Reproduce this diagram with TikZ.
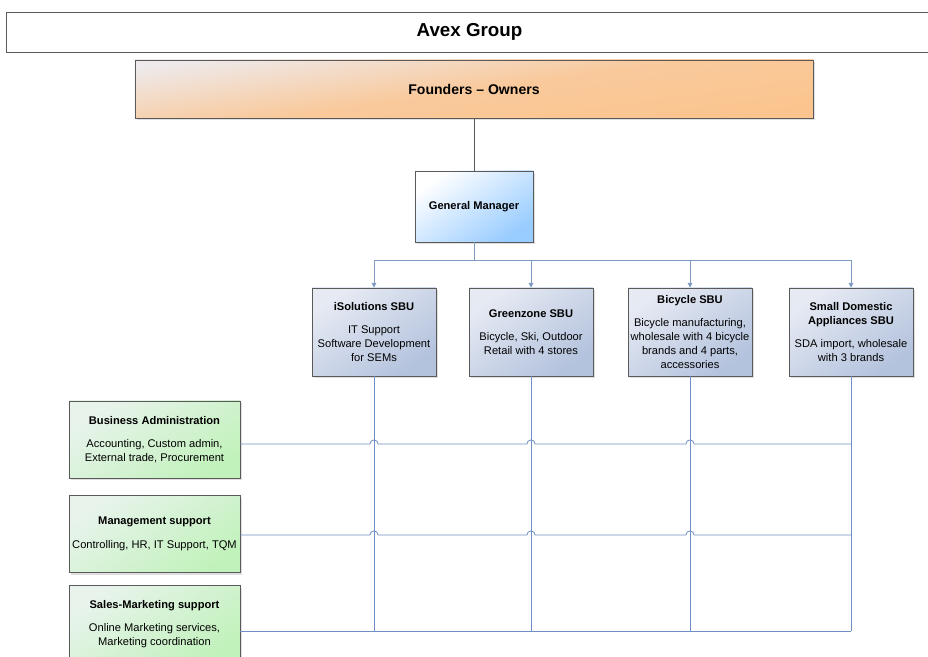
\documentclass[tikz,border=0pt]{standalone}
\usepackage{fontspec}
\setmainfont{Liberation Sans}
\usetikzlibrary{shadows,arrows.meta,calc}

\definecolor{linkblue}{HTML}{6F8FC4}
\definecolor{busgray}{HTML}{7F9CC0}
\definecolor{edgegray}{HTML}{5A5A5A}
\definecolor{sbutop}{HTML}{E6EAF3}
\definecolor{sbubot}{HTML}{B3C2DD}
\definecolor{depttop}{HTML}{E8F3EC}
\definecolor{deptbot}{HTML}{C2F2BC}
\definecolor{gmblue}{HTML}{99CCFF}
\definecolor{ownorange}{HTML}{FBC48E}
\definecolor{ownlight}{HTML}{EEE9EA}

\begin{document}
\begin{tikzpicture}[x=0.03cm,y=-0.03cm,
	box/.style={draw=edgegray, line width=0.7pt, align=center, inner sep=2pt,
		font=\fontsize{9.5}{12}\selectfont,
		drop shadow={shadow xshift=2pt, shadow yshift=-2pt, opacity=.25}},
	sbu/.style={box, minimum width=3.72cm, minimum height=2.64cm,
		top color=sbutop, bottom color=sbubot, shading angle=35},
	dept/.style={box, minimum width=5.13cm, minimum height=2.31cm,
		top color=depttop, bottom color=deptbot, shading angle=35},
	link/.style={draw=linkblue, line width=0.7pt},
	bus/.style={draw=busgray, line width=0.7pt}]

	\useasboundingbox (0,0) rectangle (928,657);

	\node[draw=edgegray, line width=0.7pt, minimum width=27.8cm, minimum height=1.2cm,
		font=\fontsize{16}{18}\selectfont\bfseries] (avex) at (469.5,32) {Avex Group};
	\node[box, minimum width=20.34cm, minimum height=1.74cm, font=\fontsize{12}{14}\selectfont\bfseries,
		top color=ownlight, bottom color=ownorange, middle color=ownorange!85!ownlight,
		shading angle=8] (owners) at (474,89) {Founders -- Owners};
	\node[box, minimum width=3.54cm, minimum height=2.13cm, font=\fontsize{9.5}{12}\selectfont\bfseries,
		top color=white, bottom color=gmblue, shading angle=35] (gm) at (474,206.5) {General Manager};

	\node[sbu] (isol) at (374,332) {\textbf{iSolutions SBU}\\[8pt]IT Support\\Software Development\\for SEMs};
	\node[sbu] (green) at (531,332) {\textbf{Greenzone SBU}\\[8pt]Bicycle, Ski, Outdoor\\Retail with 4 stores};
	\node[sbu] (bike) at (690,332) {\textbf{Bicycle SBU}\\[8pt]Bicycle manufacturing,\\wholesale with 4 bicycle\\brands and 4 parts,\\accessories};
	\node[sbu] (sda) at (851,332) {\textbf{Small Domestic}\\\textbf{Appliances SBU}\\[8pt]SDA import, wholesale\\with 3 brands};

	\node[dept] (ba) at (154.5,439.5) {\textbf{Business Administration}\\[8pt]Accounting, Custom admin,\\External trade, Procurement};
	\node[dept] (ms) at (154.5,534) {\textbf{Management support}\\[8pt]Controlling, HR, IT Support, TQM};
	\node[dept] (sm) at (154.5,624) {\textbf{Sales-Marketing support}\\[8pt]Online Marketing services,\\Marketing coordination};

	\draw[draw=edgegray, line width=0.7pt] (owners.south) -- (gm.north);
	\draw[bus] (gm.south) -- ++(0,18) coordinate (split);
	\foreach \s in {isol,green,bike,sda}
		\draw[bus, -{Triangle[width=4pt,length=4pt,fill=linkblue]}] (split) -| (\s.north);

	\coordinate (barow) at ([yshift=-0.135cm]ba.east);
	\coordinate (msrow) at ([yshift=-0.03cm]ms.east);
	\coordinate (smrow) at ([yshift=-0.21cm]sm.east);

	\foreach \s in {isol,green,bike,sda}
		\draw[link] (\s.south) -- (\s.south |- smrow);

	\foreach \r in {barow,msrow}
		\draw[link] (\r) foreach \s in {isol,green,bike}{
			-- ($(\r -| \s.south)+(-3.5pt,0)$) arc[start angle=180, end angle=0, radius=3.5pt]}
			-- (\r -| sda.south);
	\draw[link] (smrow) -- (smrow -| sda.south);

\end{tikzpicture}
\end{document}
